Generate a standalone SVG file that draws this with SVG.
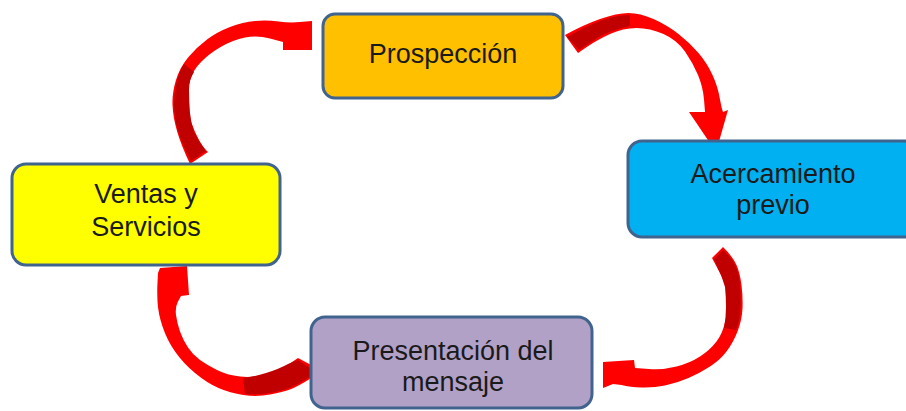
<svg xmlns="http://www.w3.org/2000/svg" width="906" height="411" viewBox="0 0 906 411">
<style>
.box{stroke:#41648F;stroke-width:3}
.lbl{font-family:"Liberation Sans",Arial,sans-serif;font-size:27px;fill:#1a1a1a;text-anchor:middle}
.arr{fill:#FF0000}
.shade{fill:#C00000}
</style>
<rect width="906" height="411" fill="#ffffff"/>
<g id="connectors">
<g id="arrow-prospeccion-acercamiento">
<path class="arr" d="M565,35 Q583,25 600,19 Q617,13 628.5,13 Q640,13 653.5,19 Q667,25 678.5,34 Q690,43 698.5,53 Q707,63 712.5,75 Q718,87 720,99.5 Q722,110 723,112 L728,110 L716,152 L689,112 L705,112 L704,99.5 Q703,87 698,75 Q693,63 685,51.5 Q677,40 663.5,34 Q650,28 636.5,28 Q623,28 610,34 Q597,40 587.5,46.5 L578,53 Z"/>
<path class="shade" d="M567,37 Q584,27 600,21 Q615,15 630,15 L630,26 Q610,30 597,38 Q588,44 579,50 Z"/>
</g>
<g id="arrow-acercamiento-presentacion">
<path class="arr" d="M723,247 Q733,257 736.5,265 Q740,273 741.5,285 Q743,297 742.5,308.5 Q742,320 737.5,331.5 Q733,343 726.5,351.5 Q720,360 710,366.5 Q700,373 688.5,378 Q677,383 665,385.5 Q653,388 641.5,387.5 Q630,387 621.5,385 L613,384 L603,388 L603,362 L634,360 L635,368 L649,369 Q663,370 676.5,366.5 Q690,363 700,356.5 Q710,350 716.5,341.5 Q723,333 725.5,320 Q728,307 727.5,297 Q727,287 723.5,280 Q720,273 716,265.5 L712,258 Z"/>
<path class="shade" d="M723,250 Q732,258 735,265 Q739,273 740,285 Q741,297 740.5,308 Q740,320 736,330 L724,328 Q726,318 726,307 Q726,297 725,287 Q722,276 717,266 L714,259 Z"/>
</g>
<g id="arrow-presentacion-ventas">
<path class="arr" d="M313,377 Q297,387 290,389.5 Q283,392 270,394.5 Q257,397 243.5,395 Q230,393 218.5,388 Q207,383 195,373 Q183,363 175,351.5 Q167,340 162.5,326.5 Q158,313 157.5,301.5 Q157,290 157.5,282.5 L158,273 L160,268 L187,266 L189,295 L181,296 L178,301.5 Q175,307 176,315 Q177,323 180,331.5 Q183,340 188,347.5 Q193,355 200,360 Q207,365 217,370 Q227,375 240,376.5 Q253,378 266.5,374 Q280,370 289,364 L298,358 L313,366 Z"/>
<path class="shade" d="M310,368 L311,376 Q297,385 289,388 Q281,391 269,393 Q256,395 245,394 L243,378 Q254,377 266,373 Q279,369 288,364 L298,360 Z"/>
</g>
<g id="arrow-ventas-prospeccion">
<path class="arr" d="M190,164 Q181,145 177,131 Q173,117 172.5,105 Q172,93 176,80 Q180,67 188.5,57 Q197,47 207,39.5 Q217,32 230,27 Q243,22 255,21 Q267,20 278.5,21.5 Q290,23 300,22 L312,21 L312,50 L283,50 L283,42 L270,38.5 Q257,35 245,37.5 Q233,40 221.5,46.5 Q210,53 201.5,61.5 Q193,70 190,80 Q187,90 187.5,101.5 Q188,113 191.5,123 Q195,133 199,140 Q203,147 205.5,149.5 L208,152 Z"/>
<path class="shade" d="M191,161 Q182,144 178,131 Q174,117 174,105 Q174,93 177,80 Q180,70 184,64 L194,72 Q189,80 189,90 Q189,101 190,113 Q191,123 194,132 Q199,142 206,151 Z"/>
</g>
</g>
<g id="node-prospeccion">
<rect class="box" x="323" y="14" width="240" height="84" rx="12" fill="#FFC000"/>
<text class="lbl" x="443" y="63">Prospección</text>
</g>
<g id="node-acercamiento">
<rect class="box" x="628" y="141" width="290" height="96" rx="14" fill="#00B0F0"/>
<text class="lbl" x="773" y="183">Acercamiento</text>
<text class="lbl" x="773" y="214">previo</text>
</g>
<g id="node-ventas">
<rect class="box" x="12" y="164" width="268" height="101" rx="14" fill="#FFFF00"/>
<text class="lbl" x="146" y="203">Ventas y</text>
<text class="lbl" x="146" y="236">Servicios</text>
</g>
<g id="node-presentacion">
<rect class="box" x="311" y="317" width="281" height="91" rx="14" fill="#B2A1C7"/>
<text class="lbl" x="453" y="360">Presentación del</text>
<text class="lbl" x="453" y="391">mensaje</text>
</g>
</svg>
